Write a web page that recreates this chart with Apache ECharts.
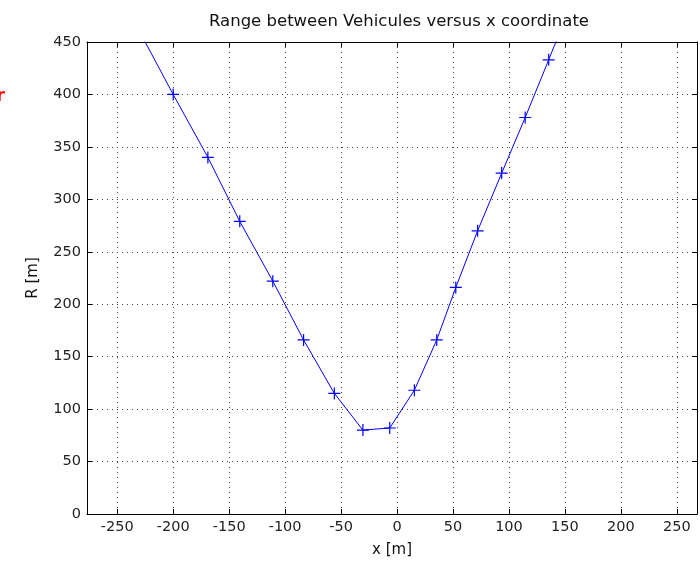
<!DOCTYPE html>
<html>
<head>
<meta charset="utf-8">
<script src="https://cdn.jsdelivr.net/npm/echarts@6/dist/echarts.min.js"></script>
<style>
  html, body { margin: 0; padding: 0; background: #fff; }
  #chart { width: 700px; height: 565px; }
</style>
</head>
<body>
<div id="chart"></div>
<script>
// x positions [m] and range R [m] (first/last lie outside the box)
var xPos = [-230, -200, -169, -140.5, -111, -83.5, -56, -30.5, -6.5, 15.5, 35.5, 52.5, 72, 93.5, 114.5, 135.5, 155];
var range = [460, 400, 340, 279, 222, 166, 115, 80, 82, 118, 166, 216, 270, 325, 378, 433, 485];

var xTicks = [-250, -200, -150, -100, -50, 0, 50, 100, 150, 200, 250];
var yTicks = [0, 50, 100, 150, 200, 250, 300, 350, 400, 450];

var points = [];
for (var i = 0; i < xPos.length; i++) {
	points.push([xPos[i], range[i]]);
}

var font = 'DejaVu Sans, Verdana, sans-serif';
var chart = echarts.init(document.getElementById('chart'));

var gridDots = {
	show : true,
	lineStyle : {
		color : '#444',
		width : 1,
		type : [1, 4]
	}
};

var option = {
	animation : false,
	title : {
		text : 'Range between Vehicules versus x coordinate',
		left : 394,
		textAlign : 'center',
		top : 8,
		textStyle : {
			fontFamily : font,
			fontSize : 16.5,
			fontWeight : 'normal',
			color : '#111'
		}
	},
	grid : {
		left : 87,
		right : 3,
		top : 42,
		bottom : 51
	},
	graphic : [{
		type : 'text',
		left : -4,
		top : 87,
		style : {
			text : 'r',
			fill : '#ff0000',
			font : 'bold 18px ' + font
		}
	}],
	xAxis : [{
		type : 'value',
		min : -277,
		max : 268,
		name : 'x [m]',
		nameLocation : 'middle',
		nameGap : 29,
		nameTextStyle : { fontFamily : font, fontSize : 15, color : '#111' },
		axisLine : { onZero : false, lineStyle : { color : '#000', width : 1 } },
		axisTick : { inside : true, length : 5, lineStyle : { color : '#000' }, customValues : xTicks },
		axisLabel : {
			fontFamily : font,
			fontSize : 14.5,
			color : '#222',
			margin : 6,
			customValues : xTicks
		},
		splitLine : gridDots
	}, {
		type : 'value',
		position : 'top',
		min : -277,
		max : 268,
		axisLine : { show : true, onZero : false, lineStyle : { color : '#000', width : 1 } },
		axisTick : { inside : true, length : 5, lineStyle : { color : '#000' }, customValues : xTicks },
		axisLabel : { show : false },
		splitLine : { show : false }
	}],
	yAxis : [{
		type : 'value',
		min : 0,
		max : 450,
		interval : 50,
		name : 'R [m]',
		nameLocation : 'middle',
		nameGap : 46,
		nameRotate : 90,
		nameTextStyle : { fontFamily : font, fontSize : 15, color : '#111' },
		axisLine : { show : true, onZero : false, lineStyle : { color : '#000', width : 1 } },
		axisTick : { show : true, inside : true, length : 5, lineStyle : { color : '#000' } },
		axisLabel : {
			fontFamily : font,
			fontSize : 14.5,
			color : '#222',
			margin : 6,
			customValues : yTicks
		},
		splitLine : gridDots
	}, {
		type : 'value',
		position : 'right',
		min : 0,
		max : 450,
		interval : 50,
		axisLine : { show : true, onZero : false, lineStyle : { color : '#000', width : 1 } },
		axisTick : { show : true, inside : true, length : 5, lineStyle : { color : '#000' } },
		axisLabel : { show : false },
		splitLine : { show : false }
	}],
	series : [{
		name : 'R',
		type : 'line',
		data : points,
		clip : true,
		symbol : 'path://M0,4.5h10v1h-10z M4.5,0h1v10h-1z',
		symbolSize : 12,
		showAllSymbol : true,
		itemStyle : { color : '#0000ff' },
		lineStyle : { color : '#0000ff', width : 1 }
	}]
};

chart.setOption(option);
</script>
</body>
</html>
